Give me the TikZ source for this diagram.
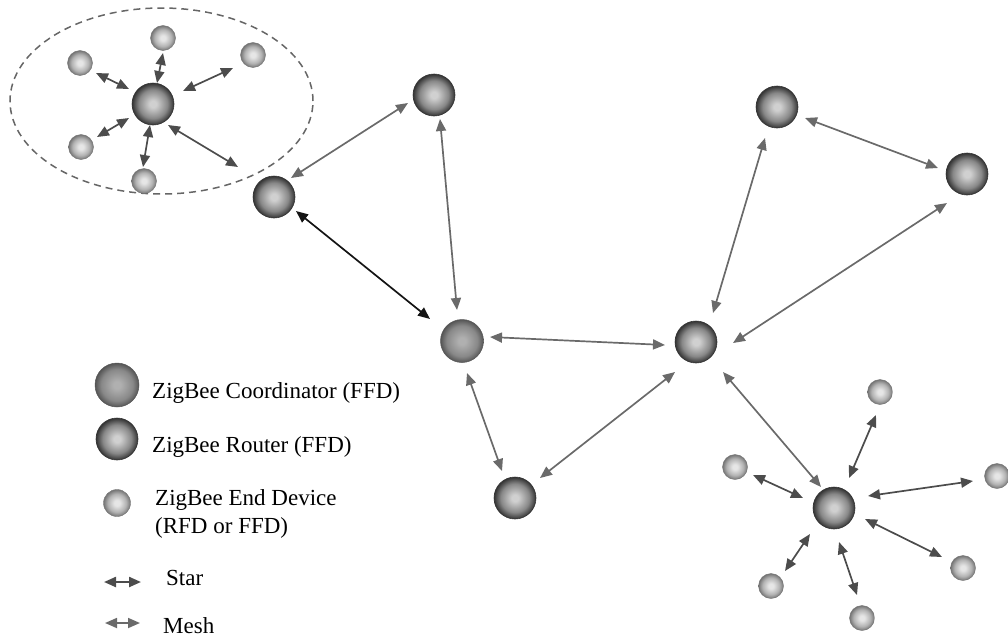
\documentclass[tikz,border=0pt]{standalone}
\usepackage{fontspec}
\setmainfont{Liberation Serif}
\usetikzlibrary{arrows.meta,shapes.geometric}
\definecolor{rtIn}{HTML}{D0D0D0}
\definecolor{rtMid}{HTML}{888888}
\definecolor{rtOut}{HTML}{333333}
\definecolor{coIn}{HTML}{B0B0B0}
\definecolor{coMid}{HTML}{888888}
\definecolor{coOut}{HTML}{555555}
\definecolor{edIn}{HTML}{E6E6E6}
\definecolor{edMid}{HTML}{B2B2B2}
\definecolor{edOut}{HTML}{747474}
\definecolor{meshc}{HTML}{6A6A6A}
\definecolor{starc}{HTML}{4C4C4C}
\definecolor{zonec}{HTML}{666666}
\pgfdeclareradialshading{routershade}{\pgfpoint{0bp}{0bp}}{color(0bp)=(rtIn); color(4bp)=(rtIn); color(17bp)=(rtMid); color(25bp)=(rtOut); color(50bp)=(rtOut)}
\pgfdeclareradialshading{coordshade}{\pgfpoint{0bp}{0bp}}{color(0bp)=(coIn); color(4bp)=(coIn); color(18bp)=(coMid); color(25bp)=(coOut); color(50bp)=(coOut)}
\pgfdeclareradialshading{edshade}{\pgfpoint{0bp}{0bp}}{color(0bp)=(edIn); color(5bp)=(edIn); color(17bp)=(edMid); color(25bp)=(edOut); color(50bp)=(edOut)}
\tikzset{
  router/.style={circle, minimum size=42pt, inner sep=0pt, shading=routershade, draw=rtOut, line width=0.6pt},
  coordnode/.style={circle, minimum size=43pt, inner sep=0pt, shading=coordshade, draw=coOut, line width=0.5pt},
  enddev/.style={circle, minimum size=25pt, inner sep=0pt, shading=edshade, draw=edOut, line width=0.4pt},
  zone/.style={ellipse, draw=zonec, line width=1.5pt, dash pattern=on 7pt off 5pt, minimum width=303pt, minimum height=186pt, inner sep=0pt},
  arr/.style={line width=1.7pt, {Triangle[length=12pt,width=10pt]}-{Triangle[length=12pt,width=10pt]}},
  mesh/.style={arr, draw=meshc},
  starlink/.style={arr, draw=starc},
  blacklink/.style={arr, draw=black!92},
  lbl/.style={font=\fontsize{23}{27}\selectfont, text=black, inner sep=0pt, anchor=base west}
}
\begin{document}
\begin{tikzpicture}[x=1pt,y=-1pt]
\useasboundingbox (0,0) rectangle (1008,637);
% cluster zone
\node[zone] (zone) at (161.5,101) {};
% routers and coordinator
\node[router] (R1) at (153,104) {};
\node[router] (R2) at (274,197) {};
\node[router] (R3) at (434,95) {};
\node[coordnode] (C) at (462,341) {};
\node[router] (R4) at (777,107) {};
\node[router] (R5) at (967,174) {};
\node[router] (R6) at (696,342) {};
\node[router] (R7) at (515,498) {};
\node[router] (R8) at (834,508) {};
% end devices, top-left cluster
\node[enddev] (E1) at (80,63) {};
\node[enddev] (E2) at (163,38) {};
\node[enddev] (E3) at (253,55) {};
\node[enddev] (E4) at (81,147) {};
\node[enddev] (E5) at (144,181) {};
% end devices, bottom-right cluster
\node[enddev] (F1) at (880,392) {};
\node[enddev] (F2) at (735,467) {};
\node[enddev] (F3) at (997,476) {};
\node[enddev] (F4) at (963,568) {};
\node[enddev] (F5) at (862,618) {};
\node[enddev] (F6) at (771,586) {};
\coordinate (out1) at (238,167);
% mesh links
\draw[mesh] ([shift={(17,-19)}]R2.center) -- ([shift={(-26,8)}]R3.center);
\draw[blacklink] ([shift={(22,14)}]R2.center) -- ([shift={(-32,-22)}]C.center);
\draw[mesh] ([shift={(6,24)}]R3.center) -- ([shift={(-5,-31)}]C.center);
\draw[mesh] ([shift={(28,-4)}]C.center) -- ([shift={(-31,3)}]R6.center);
\draw[mesh] ([shift={(5,32)}]C.center) -- ([shift={(-13,-27)}]R7.center);
\draw[mesh] ([shift={(25,-20)}]R7.center) -- ([shift={(-21,30)}]R6.center);
\draw[mesh] ([shift={(17,-29)}]R6.center) -- ([shift={(-12,31)}]R4.center);
\draw[mesh] ([shift={(37,1)}]R6.center) -- ([shift={(-20,29)}]R5.center);
\draw[mesh] ([shift={(28,11)}]R4.center) -- ([shift={(-29,-6)}]R5.center);
\draw[mesh] ([shift={(27,30)}]R6.center) -- ([shift={(-13,-21)}]R8.center);
% star links, top-left
\draw[starlink] ([shift={(16,10)}]E1.center) -- ([shift={(-24,-15)}]R1.center);
\draw[starlink] ([shift={(0,15)}]E2.center) -- ([shift={(4,-21)}]R1.center);
\draw[starlink] ([shift={(-20,13)}]E3.center) -- ([shift={(30,-13)}]R1.center);
\draw[starlink] ([shift={(16,-10)}]E4.center) -- ([shift={(-24,14)}]R1.center);
\draw[starlink] ([shift={(-1,-14)}]E5.center) -- ([shift={(-3,21)}]R1.center);
\draw[starlink] ([shift={(15,21)}]R1.center) -- (out1);
% star links, bottom-right
\draw[starlink] ([shift={(-4,23)}]F1.center) -- ([shift={(15,-30)}]R8.center);
\draw[starlink] ([shift={(18,8)}]F2.center) -- ([shift={(-31,-10)}]R8.center);
\draw[starlink] ([shift={(-24,5)}]F3.center) -- ([shift={(34,-12)}]R8.center);
\draw[starlink] ([shift={(-21,-11)}]F4.center) -- ([shift={(31,11)}]R8.center);
\draw[starlink] ([shift={(-5,-23)}]F5.center) -- ([shift={(5,34)}]R8.center);
\draw[starlink] ([shift={(14,-15)}]F6.center) -- ([shift={(-24,26)}]R8.center);
% legend
\node[coordnode, minimum size=44pt] (LC) at (117,385) {};
\node[router] (LR) at (117,439) {};
\node[enddev, minimum size=27pt] (LE) at (117,503) {};
\node[lbl] (tC) at (152,398) {ZigBee Coordinator (FFD)};
\node[lbl] (tR) at (152,452) {ZigBee Router (FFD)};
\node[lbl] (tE1) at (155,505) {ZigBee End Device};
\node[lbl] (tE2) at (155,533) {(RFD or FFD)};
\coordinate (sA) at (104,582);
\coordinate (sB) at (141,582);
\coordinate (mA) at (105,623);
\coordinate (mB) at (140,623);
\draw[starlink, line width=2.2pt] (sA) -- (sB);
\draw[mesh] (mA) -- (mB);
\node[lbl] (tS) at (166,585) {Star};
\node[lbl] (tM) at (163,633) {Mesh};
\end{tikzpicture}
\end{document}
